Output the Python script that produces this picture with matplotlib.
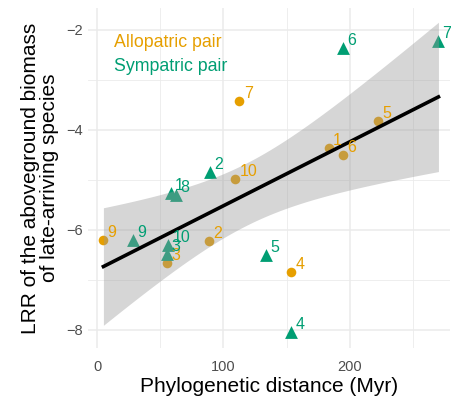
import numpy as np
import matplotlib
matplotlib.use("Agg")
import matplotlib.pyplot as plt

plt.rcParams['font.family'] = ['Liberation Sans', 'DejaVu Sans']

# allopatric pairs (orange circles)
allo_id = ["1", "2", "3", "4", "5", "6", "7", "9", "10"]
allo_x = [183.2, 88.9, 55.2, 153.6, 222.7, 195.0, 112.7, 5.0, 109.3]
allo_y = [-4.37, -6.23, -6.67, -6.84, -3.82, -4.51, -3.43, -6.20, -4.99]

# sympatric pairs (green triangles)
sym_id = ["1", "2", "3", "4", "5", "6", "7", "8", "9", "10"]
sym_x = [58.3, 89.5, 55.2, 153.6, 133.8, 195.0, 270.2, 62.5, 28.2, 56.5]
sym_y = [-5.27, -4.85, -6.48, -8.05, -6.50, -2.37, -2.23, -5.30, -6.20, -6.30]

orange = "#E69F00"
green = "#009E73"

fig = plt.figure(figsize=(4.52, 3.99), dpi=100)
ax = fig.add_axes([0.195, 0.128, 0.801, 0.852])

ax.scatter(allo_x, allo_y, s=48, marker="o", color=orange, zorder=3, linewidths=0)
ax.scatter(sym_x, sym_y, s=85, marker="^", color=green, zorder=3, linewidths=0)

# linear fit with 95% CI over all points
X = np.array(allo_x + sym_x)
Y = np.array(allo_y + sym_y)
n = len(X)
b1, b0 = np.polyfit(X, Y, 1)
res = Y - (b0 + b1 * X)
s = np.sqrt(np.sum(res ** 2) / (n - 2))
xs = np.linspace(X.min(), X.max(), 100)
ys = b0 + b1 * xs
se = s * np.sqrt(1 / n + (xs - X.mean()) ** 2 / np.sum((X - X.mean()) ** 2))
tval = 2.110  # t(0.975, 17)
ax.fill_between(xs, ys - tval * se, ys + tval * se, color="#999999", alpha=0.4,
                linewidth=0, zorder=4)
ax.plot(xs, ys, color="black", lw=2.6, zorder=5)

for lab, x, y in zip(allo_id, allo_x, allo_y):
    ax.annotate(lab, (x, y), xytext=(3, 0), textcoords="offset points",
                color=orange, fontsize=11.5, ha="left", va="bottom", zorder=6)
for lab, x, y in zip(sym_id, sym_x, sym_y):
    ax.annotate(lab, (x, y), xytext=(3, 0), textcoords="offset points",
                color=green, fontsize=11.5, ha="left", va="bottom", zorder=6)

ax.text(0.072, 0.898, "Allopatric pair", transform=ax.transAxes, color=orange,
        fontsize=12.8, va="center")
ax.text(0.072, 0.827, "Sympatric pair", transform=ax.transAxes, color=green,
        fontsize=12.8, va="center")

ax.set_xlim(-7.1, 279.5)
ax.set_ylim(-8.36, -1.56)
ax.set_xticks([0, 100, 200])
ax.set_xticks([50, 150, 250], minor=True)
ax.set_yticks([-8, -6, -4, -2])
ax.set_yticks([-7, -5, -3], minor=True)
ax.set_yticklabels(["\u22128", "\u22126", "\u22124", "\u22122"])
ax.grid(which="major", color="#EBEBEB", lw=1.1)
ax.grid(which="minor", color="#EBEBEB", lw=0.6)
ax.set_axisbelow(True)
for sp in ax.spines.values():
    sp.set_visible(False)
ax.tick_params(which="both", length=0, labelsize=10.5, labelcolor="#4D4D4D")
ax.tick_params(axis="x", pad=9)
ax.tick_params(axis="y", pad=4)

ax.set_xlabel("Phylogenetic distance (Myr)", fontsize=15, labelpad=2)
ax.set_ylabel("LRR of the aboveground biomass\nof late-arriving species", fontsize=15,
              labelpad=5, linespacing=1.0)

fig.savefig("out.png", dpi=100)
